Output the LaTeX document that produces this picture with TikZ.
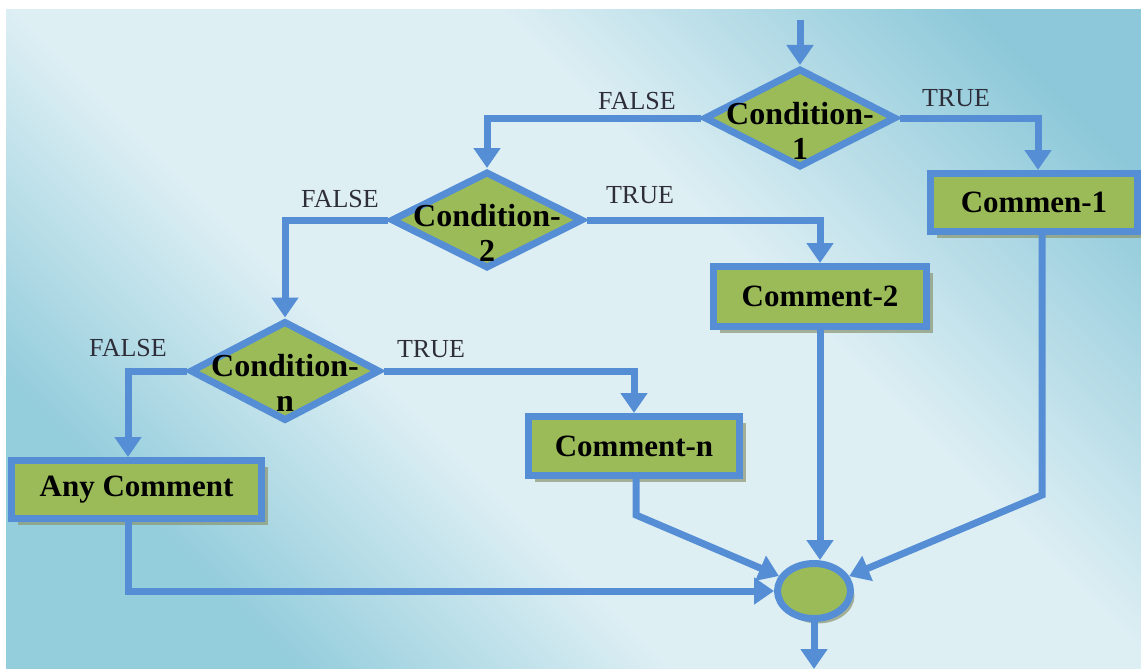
\documentclass[tikz,border=0pt]{standalone}
\usepackage{fontspec}
\setmainfont{Liberation Serif}
\usetikzlibrary{shapes.geometric,arrows.meta,shadows,calc}
\definecolor{lineblue}{HTML}{558ED5}
\definecolor{boxgreen}{HTML}{9BBB59}
\definecolor{bgdark}{HTML}{8CC8D9}
\definecolor{bgdarkb}{HTML}{94CDDC}
\definecolor{bglight}{HTML}{DEEFF4}
\definecolor{labelc}{HTML}{2E2E3A}
\definecolor{shadowc}{HTML}{8A9670}
\pgfdeclarehorizontalshading{bgshade}{100bp}{color(0bp)=(bgdarkb); color(26bp)=(bgdarkb); color(41bp)=(bglight); color(60bp)=(bglight); color(79bp)=(bgdark); color(100bp)=(bgdark)}
\begin{document}
\begin{tikzpicture}[x=1pt,y=-1pt,
  conn/.style={draw=lineblue, line width=7pt},
  arr/.style={conn,-{Triangle[width=26pt,length=20pt]}},
  dia/.style={diamond, draw=lineblue, line width=7pt, fill=boxgreen, inner sep=0pt},
  dtext/.style={font=\bfseries\fontsize{32}{35}\selectfont, align=center, inner sep=0pt},
  box/.style={draw=lineblue, line width=7pt, fill=boxgreen, font=\bfseries\fontsize{31}{35}\selectfont, inner sep=0pt,
    drop shadow={shadow xshift=6pt, shadow yshift=-6pt, fill=shadowc, opacity=0.7}},
  endc/.style={ellipse, draw=lineblue, line width=7pt, fill=boxgreen, inner sep=0pt, minimum width=73pt, minimum height=55pt,
    drop shadow={shadow xshift=4pt, shadow yshift=-5pt, fill=shadowc, opacity=0.7}},
  lab/.style={font=\fontsize{26}{30}\selectfont, text=labelc, inner sep=0pt}
]
\useasboundingbox (0,0) rectangle (1141,669);
\fill[shading=bgshade, shading angle=45] (6,10) rectangle (1141,669);

% decision nodes
\node[dia, minimum width=192pt, minimum height=99pt] (c1) at (800,118) {};
\node[dtext] (t1) at (800,131) {Condition-\\1};
\node[dia, minimum width=192pt, minimum height=97pt] (c2) at (487,220) {};
\node[dtext] (t2) at (487,233) {Condition-\\2};
\node[dia, minimum width=190pt, minimum height=100pt] (cn) at (285,371) {};
\node[dtext] (tn) at (285,383) {Condition-\\n};

% process boxes
\node[box, minimum width=207pt, minimum height=58pt] (b1) at (1034,202.5) {Commen-1};
\node[box, minimum width=213pt, minimum height=60pt] (b2) at (820,296.5) {Comment-2};
\node[box, minimum width=211pt, minimum height=59pt] (bn) at (634,446) {Comment-n};
\node[box, minimum width=250pt, minimum height=58pt] (ba) at (136.5,489.5) {Any Comment};

% connector
\node[endc] (circ) at (814,591) {};

% labels
\node[lab] (f1) at (637,101) {FALSE};
\node[lab] (r1) at (956,98) {TRUE};
\node[lab] (f2) at (340,199) {FALSE};
\node[lab] (r2) at (640,195) {TRUE};
\node[lab] (fn) at (128,348) {FALSE};
\node[lab] (rn) at (431,349) {TRUE};

% helper coordinates
\coordinate (top) at (800,20);
\coordinate (k1) at (1042,495);
\coordinate (kn) at (636,515);
\coordinate (ka) at (128,588);
\coordinate (bot) at (812,669);

% connectors
\draw[arr] (top) -- (c1.north);
\draw[arr] (c1.west) -| (c2.north);
\draw[arr] (c1.east) -| ([xshift=4pt]b1.north);
\draw[arr] (c2.west) -| (cn.north);
\draw[arr] (c2.east) -| (b2.north);
\draw[arr] (cn.west) -| (ba.north -| ka);
\draw[arr] (cn.east) -| (bn.north);
\draw[arr] (b1.south -| k1) -- (k1) -- (circ);
\draw[arr] (b2.south) -- (b2.south |- circ.north);
\draw[arr] (bn.south -| kn) -- (kn) -- (circ);
\draw[arr] (ba.south -| ka) |- (circ.west);
\draw[arr] (circ.south) -- (circ.south |- bot);
\end{tikzpicture}
\end{document}
